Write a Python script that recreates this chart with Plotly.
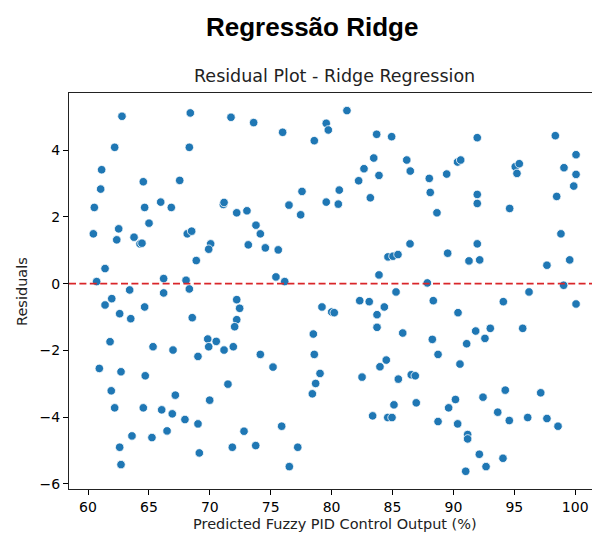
import plotly.graph_objects as go

# Predicted control output (%) and the Ridge residuals for each test sample
predicted = [
    62.79, 68.40, 62.19, 68.32, 61.12, 61.04, 64.54, 67.53, 60.52, 64.65,
    65.97, 66.84, 62.52, 65.01, 60.44, 62.36, 63.78, 64.27, 64.43, 68.15,
    68.51, 68.89, 61.40, 60.71, 66.21, 68.05, 68.32, 63.42, 66.21, 61.95,
    61.40, 64.65, 62.60, 63.51, 68.56, 61.81, 65.34, 66.98, 69.03, 60.93,
    62.71, 64.70, 61.91, 67.17, 62.19, 64.54, 66.05, 66.92, 67.96, 69.03,
    63.61, 65.25, 66.49, 62.60, 69.14, 62.71, 71.74, 73.60, 75.98, 78.58,
    79.56, 79.73, 77.57, 71.11, 71.17, 72.21, 73.05, 76.50, 77.46, 79.56,
    73.79, 74.15, 70.07, 69.91, 73.16, 74.56, 75.62, 75.43, 76.15, 72.21,
    72.45, 72.21, 72.04, 79.21, 80.01, 69.83, 69.91, 70.53, 71.17, 71.93,
    74.15, 75.19, 78.50, 78.58, 79.05, 78.69, 78.42, 71.49, 69.99, 72.81,
    75.90, 71.85, 73.77, 77.22, 76.53, 81.26, 83.70, 84.93, 83.46, 82.66,
    86.17, 86.46, 83.89, 82.22, 88.02, 89.45, 90.34, 90.60, 80.63, 80.55,
    83.18, 88.10, 88.65, 86.44, 84.63, 85.04, 85.45, 89.53, 83.89, 87.86,
    85.29, 82.31, 83.09, 84.33, 83.73, 88.35, 80.22, 90.38, 83.73, 85.84,
    88.27, 88.74, 90.54, 84.49, 83.97, 82.50, 85.48, 86.54, 86.87, 85.12,
    86.95, 83.37, 84.61, 84.96, 90.17, 89.61, 88.74, 90.35, 91.96, 98.37,
    100.07, 95.08, 95.41, 95.22, 99.08, 100.07, 99.88, 91.96, 91.96, 98.48,
    94.62, 98.83, 91.96, 91.28, 92.16, 97.68, 99.55, 99.05, 96.21, 94.10,
    100.07, 91.83, 93.03, 92.59, 95.69, 91.09, 92.43, 94.26, 97.17, 93.64,
    94.59, 96.10, 97.68, 98.59, 91.17, 91.17, 92.13, 94.07, 92.68, 91.01,
]
residuals = [
    5.01, 5.11, 4.08, 4.08, 3.41, 2.83, 3.05, 3.09, 2.28, 2.28,
    2.44, 2.28, 1.64, 1.81, 1.49, 1.31, 1.39, 1.19, 1.21, 1.49,
    1.57, 0.69, 0.45, 0.06, 0.15, 0.10, -0.16, -0.19, -0.28, -0.45,
    -0.64, -0.70, -0.90, -1.05, -1.02, -1.74, -1.89, -1.99, -2.18, -2.54,
    -2.64, -2.76, -3.21, -3.34, -3.72, -3.72, -3.78, -3.90, -4.07, -4.20,
    -4.56, -4.61, -4.41, -4.90, -5.07, -5.42, 4.98, 4.82, 4.53, 4.28,
    4.80, 4.60, 2.76, 2.37, 2.43, 2.12, 2.18, 2.35, 2.06, 2.44,
    1.75, 1.49, 1.19, 1.03, 1.16, 1.07, 1.01, 0.20, 0.06, -0.48,
    -0.74, -1.08, -1.29, -0.70, -0.85, -1.66, -1.89, -1.73, -1.99, -1.89,
    -2.12, -2.50, -1.51, -2.12, -2.69, -2.99, -3.30, -3.01, -3.49, -4.42,
    -4.27, -4.90, -4.85, -4.90, -5.48, 5.18, 4.47, 4.40, 3.76, 3.44,
    3.70, 3.37, 3.24, 3.08, 3.15, 3.28, 3.64, 3.70, 2.80, 2.38,
    2.57, 2.73, 2.12, 1.19, 0.80, 0.82, 0.87, 0.91, 0.26, 0.02,
    -0.25, -0.51, -0.54, -0.70, -0.93, -0.51, -0.87, -0.87, -1.31, -1.48,
    -1.67, -2.12, -2.41, -2.29, -2.49, -2.80, -2.86, -2.73, -2.76, -3.63,
    -3.57, -3.96, -4.01, -4.01, -3.47, -3.72, -4.13, -4.20, 4.37, 4.43,
    3.86, 3.50, 3.59, 3.30, 3.47, 3.27, 2.92, 2.67, 2.40, 2.61,
    2.25, 1.49, 1.19, 0.68, 0.71, 0.55, 0.71, -0.05, -0.25, -0.54,
    -0.61, -1.42, -1.34, -1.64, -1.34, -1.80, -3.40, -3.19, -3.27, -3.85,
    -4.10, -4.01, -4.04, -4.27, -4.52, -4.65, -5.11, -5.23, -5.48, -5.62,
]

x_ticks = [60, 65, 70, 75, 80, 85, 90, 95, 100]
y_ticks = [-6, -4, -2, 0, 2, 4]

fig = go.Figure()
fig.add_trace(go.Scatter(
    x=predicted, y=residuals, mode="markers",
    marker=dict(size=8.5, color="#1f77b4", line=dict(color="white", width=0.8)),
    showlegend=False, hoverinfo="skip",
))

# zero-residual reference line, drawn over the points
fig.add_shape(type="line", xref="paper", x0=0, x1=1, yref="y", y0=0, y1=0,
              line=dict(color="#d9262a", width=1.9, dash="7px,3.4px"), layer="above")

axis_font = dict(family="DejaVu Sans", size=14, color="#000000")
fig.update_xaxes(
    range=[58.44, 101.38], tickvals=x_ticks, ticks="outside", ticklen=5, tickwidth=1.1,
    tickcolor="#000", showline=True, linecolor="#222", linewidth=1.1, mirror=True,
    showgrid=False, zeroline=False, tickfont=axis_font,
)
fig.update_yaxes(
    range=[-6.150, 5.707], tickvals=y_ticks, ticks="outside", ticklen=5, tickwidth=1.1,
    tickcolor="#000", showline=True, linecolor="#222", linewidth=1.1,
    showgrid=False, zeroline=False, tickfont=axis_font,
)

annotations = [
    dict(text="<b>Regressão Ridge</b>", x=0.464, y=1.1667,
         font=dict(family="Liberation Sans", size=26, color="#000")),
    dict(text="Residual Plot - Ridge Regression", x=0.508, y=1.043,
         font=dict(family="DejaVu Sans", size=17.5, color="#222")),
    dict(text="Predicted Fuzzy PID Control Output (%)", x=0.508, y=-0.0884,
         font=dict(family="DejaVu Sans", size=14.5, color="#222")),
    dict(text="Residuals", x=-0.0899, y=0.5, textangle=-90,
         font=dict(family="DejaVu Sans", size=14.5, color="#222")),
]
for a in annotations:
    fig.add_annotation(xref="paper", yref="paper", showarrow=False,
                       xanchor="center", yanchor="middle", **a)

fig.update_layout(
    width=592, height=536,
    margin=dict(l=69, r=0, t=93, b=47),
    paper_bgcolor="white", plot_bgcolor="white",
)

fig.write_html("out.html")
